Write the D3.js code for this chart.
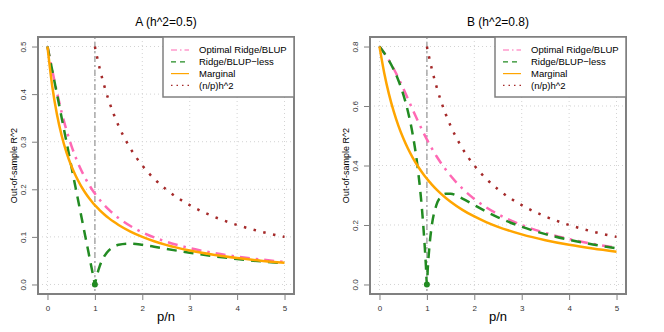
<!DOCTYPE html>
<html>
<head>
<meta charset="utf-8">
<script src="https://cdn.jsdelivr.net/npm/d3@7"></script>
<style>
body{margin:0;background:#fff;}
text{font-family:"Liberation Sans",Arial,Helvetica,sans-serif;}
</style>
</head>
<body>
<div id="chart"></div>
<script>

// p/n grid shared by every curve
var pn = [0, 0.1, 0.2, 0.3, 0.4, 0.5, 0.6, 0.7, 0.8, 0.9, 0.95, 0.98, 1, 1.02, 1.05, 1.1, 1.2, 1.3, 1.4, 1.5, 1.75, 2, 2.25, 2.5, 3, 3.5, 4, 4.5, 5];
// (n/p)h^2 only exists from p/n = 1
var pn_np = [1, 1.02, 1.05, 1.1, 1.2, 1.3, 1.4, 1.5, 1.75, 2, 2.25, 2.5, 3, 3.5, 4, 4.5, 5];
var x_ticks = [0, 1, 2, 3, 4, 5];

// panel A, h^2 = 0.5
var a_optimal = [0.5, 0.4505, 0.4037, 0.3615, 0.3246, 0.2929, 0.2658, 0.2427, 0.2229, 0.2058, 0.1981, 0.1938, 0.1910, 0.1883, 0.1843, 0.1780, 0.1667, 0.1566, 0.1476, 0.1396, 0.1228, 0.1096, 0.0989, 0.0901, 0.0764, 0.0664, 0.0586, 0.0525, 0.0475];
var a_less = [0.5, 0.45, 0.4, 0.35, 0.3, 0.25, 0.2, 0.15, 0.1, 0.05, 0.025, 0.01, 0, 0.0094, 0.0217, 0.0379, 0.0595, 0.0721, 0.0794, 0.0833, 0.0857, 0.0833, 0.0794, 0.075, 0.0667, 0.0595, 0.0536, 0.0486, 0.0444];
var a_marginal = [0.5, 0.4167, 0.3571, 0.3125, 0.2778, 0.25, 0.2273, 0.2083, 0.1923, 0.1786, 0.1724, 0.1689, 0.1667, 0.1645, 0.1613, 0.1563, 0.1471, 0.1389, 0.1316, 0.125, 0.1111, 0.1, 0.0909, 0.0833, 0.0714, 0.0625, 0.0556, 0.05, 0.0455];
var a_np = [0.5, 0.4902, 0.4762, 0.4545, 0.4167, 0.3846, 0.3571, 0.3333, 0.2857, 0.25, 0.2222, 0.2, 0.1667, 0.1429, 0.125, 0.1111, 0.1];
var a_y_ticks = [0, 0.1, 0.2, 0.3, 0.4, 0.5];

// panel B, h^2 = 0.8
var b_optimal = [0.8, 0.7784, 0.7536, 0.7253, 0.6938, 0.6597, 0.6240, 0.5880, 0.5528, 0.5192, 0.5031, 0.4938, 0.4877, 0.4817, 0.4728, 0.4586, 0.4319, 0.4076, 0.3855, 0.3653, 0.3222, 0.2877, 0.2595, 0.2362, 0.2, 0.1733, 0.1528, 0.1366, 0.1235];
var b_less = [0.8, 0.778, 0.753, 0.7226, 0.6857, 0.64, 0.5818, 0.5053, 0.4, 0.2462, 0.1391, 0.0604, 0, 0.057, 0.1219, 0.1939, 0.2667, 0.2954, 0.3048, 0.3048, 0.2887, 0.2667, 0.2452, 0.2259, 0.1939, 0.1693, 0.15, 0.1345, 0.1219];
var b_marginal = [0.8, 0.7111, 0.64, 0.5818, 0.5333, 0.4923, 0.4571, 0.4267, 0.4, 0.3765, 0.3657, 0.3596, 0.3556, 0.3516, 0.3459, 0.3368, 0.32, 0.3048, 0.2909, 0.2783, 0.2510, 0.2286, 0.2098, 0.1939, 0.1684, 0.1488, 0.1333, 0.1208, 0.1103];
var b_np = [0.8, 0.7843, 0.7619, 0.7273, 0.6667, 0.6154, 0.5714, 0.5333, 0.4571, 0.4, 0.3556, 0.32, 0.2667, 0.2286, 0.2, 0.1778, 0.16];
var b_y_ticks = [0, 0.2, 0.4, 0.6, 0.8];

var legend_labels = ["Optimal Ridge/BLUP", "Ridge/BLUP\u2212less", "Marginal", "(n/p)h^2"];
var colors = ["#ff69b4", "#228b22", "#ffa500", "#a52a2a"];
var dashes = ["10,6,2.5,6", "10,7", null, "2.5,7.5"];
var legend_dashes = ["6,3,1.5,3", "5,4", null, "1.5,4"];

var W = 664, H = 332;
var svg = d3.select("#chart").append("svg").attr("width", W).attr("height", H);

function draw_panel(ox, title, y_max, y_ticks, optimal, less, marginal, np){
	var g = svg.append("g").attr("transform", "translate(" + ox + ",0)");
	var left = 38, right = 294, top = 37, bottom = 294;
	var x = d3.scaleLinear().domain([-0.2, 5.2]).range([left, right]);
	var pad = y_max * 0.04;
	var y = d3.scaleLinear().domain([-pad, y_max + pad]).range([bottom, top]);

	// grid()
	g.append("g").selectAll("line").data(x_ticks).enter().append("line")
		.attr("x1", function(d){ return x(d); }).attr("x2", function(d){ return x(d); })
		.attr("y1", top).attr("y2", bottom)
		.attr("stroke", "#d3d3d3").attr("stroke-dasharray", "1,3");
	g.append("g").selectAll("line").data(y_ticks).enter().append("line")
		.attr("y1", function(d){ return y(d); }).attr("y2", function(d){ return y(d); })
		.attr("x1", left).attr("x2", right)
		.attr("stroke", "#d3d3d3").attr("stroke-dasharray", "1,3");

	// abline at p/n = 1
	g.append("line")
		.attr("x1", x(1)).attr("x2", x(1)).attr("y1", top).attr("y2", bottom)
		.attr("stroke", "#a9a9a9").attr("stroke-width", 1.5).attr("stroke-dasharray", "2,3,6,3");

	var line = d3.line()
		.x(function(d){ return x(d[0]); })
		.y(function(d){ return y(d[1]); })
		.curve(d3.curveMonotoneX);

	var series = [d3.zip(pn, optimal), d3.zip(pn, less), d3.zip(pn, marginal), d3.zip(pn_np, np)];
	series.forEach(function(s, i){
		g.append("path").datum(s)
			.attr("d", line)
			.attr("fill", "none")
			.attr("stroke", colors[i])
			.attr("stroke-width", 2.5)
			.attr("stroke-dasharray", dashes[i]);
	});

	// point where ridge-less hits zero
	g.append("circle").attr("cx", x(1)).attr("cy", y(0)).attr("r", 3).attr("fill", colors[1]);

	// axes
	var xa = g.append("g").attr("transform", "translate(0," + bottom + ")")
		.call(d3.axisBottom(x).tickValues(x_ticks).tickSize(6).tickPadding(5).tickFormat(d3.format("d")));
	xa.select(".domain").remove();
	xa.selectAll("line").attr("stroke", "#808080");
	xa.selectAll("text").attr("font-size", 8).attr("fill", "#333");

	var ya = g.append("g").attr("transform", "translate(" + left + ",0)")
		.call(d3.axisLeft(y).tickValues(y_ticks).tickSize(6).tickFormat(d3.format(".1f")));
	ya.select(".domain").remove();
	ya.selectAll("line").attr("stroke", "#808080");
	ya.selectAll("text")
		.attr("transform", "rotate(-90)")
		.attr("x", 0).attr("y", -12).attr("dy", 0)
		.attr("text-anchor", "middle")
		.attr("font-size", 8).attr("fill", "#333");

	// box
	g.append("rect").attr("x", left).attr("y", top).attr("width", right - left).attr("height", bottom - top)
		.attr("fill", "none").attr("stroke", "#808080").attr("stroke-width", 2);

	// titles
	g.append("text").attr("x", (left + right) / 2).attr("y", 26).attr("text-anchor", "middle")
		.attr("font-size", 12).text(title);
	g.append("text").attr("x", (left + right) / 2).attr("y", 321).attr("text-anchor", "middle")
		.attr("font-size", 13).text("p/n");
	g.append("text").attr("transform", "translate(17," + ((top + bottom) / 2) + ") rotate(-90)")
		.attr("text-anchor", "middle").attr("font-size", 9).text("Out-of-sample R^2");

	// legend
	var lg = g.append("g");
	lg.append("rect").attr("x", 163).attr("y", top).attr("width", right - 163).attr("height", 60)
		.attr("fill", "#fff").attr("stroke", "#808080").attr("stroke-width", 1.5);
	legend_labels.forEach(function(lab, i){
		var yy = 50 + i * 11.8;
		lg.append("line").attr("x1", 171).attr("x2", 189).attr("y1", yy).attr("y2", yy)
			.attr("stroke", colors[i]).attr("stroke-width", 1.2)
			.attr("stroke-dasharray", legend_dashes[i]);
		lg.append("text").attr("x", 199).attr("y", yy).attr("dy", "0.35em")
			.attr("font-size", 9.5).text(lab);
	});
}

draw_panel(0, "A (h^2=0.5)", 0.5, a_y_ticks, a_optimal, a_less, a_marginal, a_np);
draw_panel(332, "B (h^2=0.8)", 0.8, b_y_ticks, b_optimal, b_less, b_marginal, b_np);

</script>
</body>
</html>
